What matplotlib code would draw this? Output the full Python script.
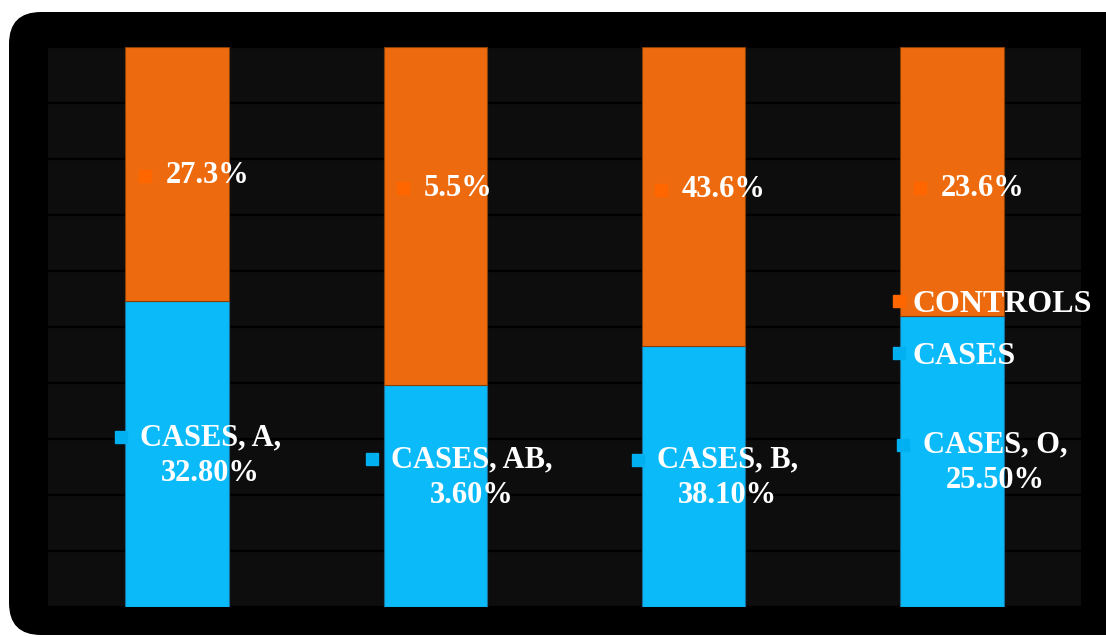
import matplotlib
matplotlib.use("Agg")
import matplotlib.pyplot as plt
from matplotlib.patches import FancyBboxPatch
from matplotlib.lines import Line2D
import numpy as np

# data
groups = ["A", "AB", "B", "O"]
cases = [32.8, 3.6, 38.1, 25.5]        # % of cases per blood group
controls = [27.3, 5.5, 43.6, 23.6]     # % of controls per blood group
case_labels = ["32.80%", "3.60%", "38.10%", "25.50%"]
control_labels = ["27.3%", "5.5%", "43.6%", "23.6%"]

# label placement (data coords)
ctrl_label_y = [0.77, 0.748, 0.745, 0.748]
case_label_y = [0.271, 0.231, 0.231, 0.257]
case_label_dx = [0.13, 0.14, 0.13, 0.167]
case_marker_dx = [-0.217, -0.245, -0.215, -0.19]
case_marker_y = [0.304, 0.264, 0.263, 0.289]

ORANGE = "#ED6B0E"
CYAN = "#0BBAF9"
MK_ORANGE = "#FF6600"
MK_CYAN = "#00B0F0"

plt.rcParams["font.family"] = ["Liberation Serif", "DejaVu Serif"]
plt.rcParams["font.weight"] = "bold"

fig = plt.figure(figsize=(11.06, 6.37), dpi=100)
fig.patch.set_facecolor("white")

# rounded black frame
frame = FancyBboxPatch((0.09, 0.02), 11.4, 6.23,
                       boxstyle="round,pad=0,rounding_size=0.32",
                       transform=fig.dpi_scale_trans, fc="black", ec="none",
                       zorder=-10)
fig.patches.append(frame)

ax = fig.add_axes([48 / 1106, 1 - 607 / 637, (1081 - 48) / 1106, (607 - 47) / 637])
ax.set_facecolor("#0d0d0d")

x = np.arange(len(groups))
cases = np.array(cases)
controls = np.array(controls)
tot = cases + controls
case_frac = cases / tot
ctrl_frac = controls / tot

ax.bar(x, case_frac, width=0.4, color=CYAN, edgecolor="#1a6f96", lw=0.8, zorder=3)
ax.bar(x, ctrl_frac, bottom=case_frac, width=0.4, color=ORANGE,
       edgecolor="#8a3f08", lw=0.8, zorder=3)

ax.set_xlim(-0.5, 3.5)
ax.set_ylim(0, 1)
ax.set_yticks(np.arange(0, 1.01, 0.1))
ax.set_xticks([])
ax.tick_params(left=False, labelleft=False)
ax.yaxis.grid(True, color="black", lw=1.6, zorder=1)
ax.set_axisbelow(True)
for s in ax.spines.values():
    s.set_visible(False)

fs = 22
for i in range(len(groups)):
    # controls label
    ax.plot(x[i] - 0.125, ctrl_label_y[i], marker="s", ms=8, color=MK_ORANGE,
            ls="", zorder=5)
    ax.text(x[i] - 0.045, ctrl_label_y[i], control_labels[i], color="white",
            fontsize=fs, fontweight="bold", ha="left", va="center", zorder=6)
    # cases label
    ax.plot(x[i] + case_marker_dx[i], case_marker_y[i], marker="s", ms=8,
            color=MK_CYAN, ls="", zorder=5)
    ax.text(x[i] + case_label_dx[i], case_label_y[i],
            f"CASES, {groups[i]},\n{case_labels[i]}", color="white",
            fontsize=fs, fontweight="bold", ha="center", va="center",
            linespacing=1.3, zorder=6)

handles = [Line2D([], [], marker="s", ms=8, ls="", color=MK_ORANGE),
           Line2D([], [], marker="s", ms=8, ls="", color=MK_CYAN)]
leg = ax.legend(handles, ["CONTROLS", "CASES"], loc="upper left",
                bbox_to_anchor=(889 / 1106, 1 - 290 / 637),
                bbox_transform=fig.transFigure, frameon=False,
                prop={"size": 23, "weight": "bold"}, labelcolor="white",
                handlelength=0.6, handletextpad=0.15, labelspacing=0.7,
                borderpad=0, borderaxespad=0)
leg.set_zorder(7)

fig.savefig("out.png", dpi=100, facecolor="white")
